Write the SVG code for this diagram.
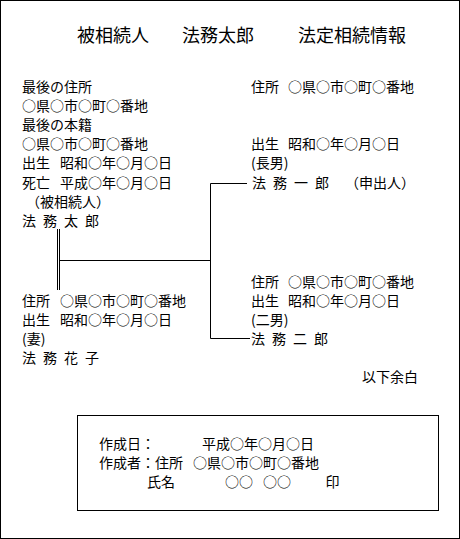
<svg xmlns="http://www.w3.org/2000/svg" width="460" height="539" viewBox="0 0 460 539">
<style>
text{font-family:"Noto Sans CJK JP","Noto Sans CJK SC",sans-serif;font-size:14px;fill:#000}
.title{font-size:18px}
.sp{word-spacing:3.9px}
.ln{fill:none;stroke:#000;stroke-width:1}
</style>
<rect class="ln" x="0.5" y="0.5" width="459" height="538"/>
<g id="header">
<text class="title" x="77" y="42">被相続人</text>
<text class="title" x="182" y="42">法務太郎</text>
<text class="title" x="298" y="42">法定相続情報</text>
</g>
<g id="decedent">
<text x="22" y="92">最後の住所</text>
<text x="22" y="111">○県○市○町○番地</text>
<text x="22" y="130">最後の本籍</text>
<text x="22" y="149">○県○市○町○番地</text>
<text x="22" y="168">出生 <tspan x="60">昭和○年○月○日</tspan></text>
<text x="22" y="188">死亡 <tspan x="60">平成○年○月○日</tspan></text>
<text x="26" y="207">（被相続人）</text>
<text class="sp" x="22" y="226">法 務 太 郎</text>
</g>
<g id="spouse">
<text x="22" y="306">住所 <tspan x="60">○県○市○町○番地</tspan></text>
<text x="22" y="325">出生 <tspan x="60">昭和○年○月○日</tspan></text>
<text x="22" y="344">(妻)</text>
<text class="sp" x="22" y="363">法 務 花 子</text>
</g>
<g id="son1">
<text x="251" y="92">住所 <tspan x="288">○県○市○町○番地</tspan></text>
<text x="251" y="149">出生 <tspan x="288">昭和○年○月○日</tspan></text>
<text x="251" y="168">(長男)</text>
<text class="sp" x="252" y="188">法 務 一 郎 <tspan x="345">（申出人）</tspan></text>
</g>
<g id="son2">
<text x="251" y="287">住所 <tspan x="288">○県○市○町○番地</tspan></text>
<text x="251" y="306">出生 <tspan x="288">昭和○年○月○日</tspan></text>
<text x="251" y="325">(二男)</text>
<text class="sp" x="251" y="344">法 務 二 郎</text>
</g>
<g id="remainder">
<text x="362" y="382">以下余白</text>
</g>
<g id="connectors">
<line class="ln" x1="57.5" y1="229" x2="57.5" y2="290"/>
<line class="ln" x1="59.5" y1="229" x2="59.5" y2="290"/>
<line class="ln" x1="59.5" y1="260.5" x2="210.5" y2="260.5"/>
<polyline class="ln" points="247,183.5 210.5,183.5 210.5,338.5 250,338.5"/>
</g>
<g id="creator">
<rect class="ln" x="77.5" y="415.5" width="361" height="95"/>
<text x="99" y="448.5">作成日：<tspan x="202">平成○年○月○日</tspan></text>
<text x="99" y="467.5">作成者：住所 <tspan x="193">○県○市○町○番地</tspan></text>
<text x="147" y="487">氏名 <tspan x="225">○○</tspan> <tspan x="263">○○</tspan> <tspan x="325.5">印</tspan></text>
</g>
</svg>
